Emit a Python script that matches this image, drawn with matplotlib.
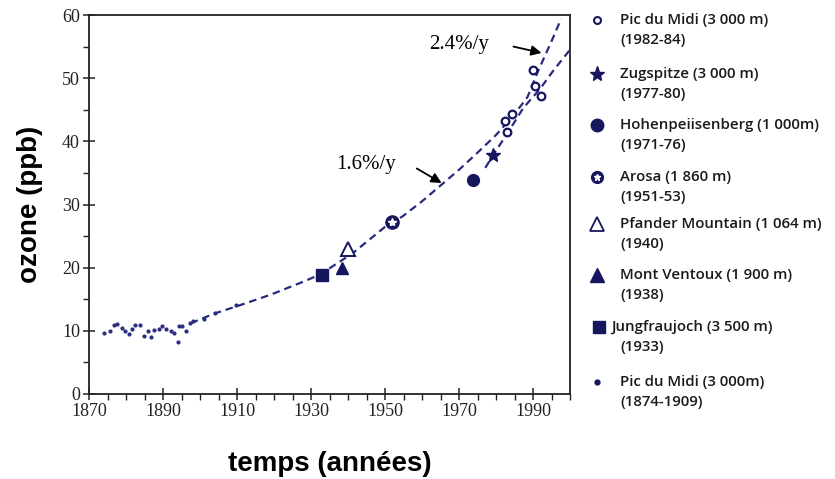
import numpy as np
import matplotlib
matplotlib.use("Agg")
import matplotlib.pyplot as plt
from matplotlib.ticker import MultipleLocator

NAVY = "#15165e"
DASH = "#262b7c"

# Pic du Midi 1874-1909 (small dots)
early_yr = [1874.1, 1875.8, 1876.8, 1877.7, 1879.0, 1879.7, 1880.7, 1881.6, 1882.5, 1883.7,
            1884.9, 1885.9, 1886.7, 1887.7, 1888.8, 1889.8, 1890.9, 1892.1, 1893.1, 1894.0,
            1894.2, 1895.1, 1896.3, 1897.2, 1898.1, 1901.2, 1904.0, 1909.6]
early_o3 = [9.7, 10.0, 11.0, 11.1, 10.4, 9.9, 9.5, 10.3, 11.0, 11.0,
            9.2, 10.0, 9.1, 10.2, 10.3, 10.8, 10.3, 10.0, 9.6, 8.3,
            10.7, 10.8, 10.0, 11.3, 11.6, 11.9, 12.8, 14.1]

# single stations
jung_yr, jung_o3 = [1933.1], [18.9]       # Jungfraujoch
vent_yr, vent_o3 = [1938.4], [19.9]       # Mont Ventoux
pfan_yr, pfan_o3 = [1940.0], [22.9]       # Pfander Mountain
arosa_yr, arosa_o3 = [1952.0], [27.3]     # Arosa
hohen_yr, hohen_o3 = [1973.9], [33.9]     # Hohenpeissenberg
zug_yr, zug_o3 = [1979.3], [37.8]         # Zugspitze

# Pic du Midi 1982-84 (open circles)
pdm_yr = [1982.5, 1984.2, 1983.1, 1990.1, 1990.5, 1992.1]
pdm_o3 = [43.2, 44.4, 41.4, 51.3, 48.8, 47.1]

# trend curves
trend16_yr = [1897.5, 1903.7, 1910.0, 1919.0, 1928.0, 1932.4, 1941.3, 1950.3, 1954.7, 1960.0,
              1965.0, 1970.0, 1975.0, 1980.0, 1985.0, 1988.5, 1991.5, 1994.9, 1997.6]
trend16_o3 = [11.2, 12.7, 13.9, 15.7, 17.8, 18.9, 22.3, 26.6, 28.1, 30.5,
              33.0, 35.5, 38.2, 41.0, 44.3, 47.0, 51.3, 55.7, 59.4]
trend24_yr = [1977.1, 1979.3, 1982.9, 1987.4, 1991.9, 1995.5, 2000.0]
trend24_o3 = [35.8, 37.9, 41.1, 45.3, 48.3, 51.2, 54.5]

legend_names = ["Pic du Midi (3 000 m)", "Zugspitze (3 000 m)", "Hohenpeiisenberg (1 000m)",
                "Arosa (1 860 m)", "Pfander Mountain (1 064 m)", "Mont Ventoux (1 900 m)",
                "Jungfraujoch (3 500 m)", "Pic du Midi (3 000m)"]
legend_years = ["(1982-84)", "(1977-80)", "(1971-76)", "(1951-53)", "(1940)", "(1938)",
                "(1933)", "(1874-1909)"]

fig = plt.figure(figsize=(8.35, 4.79), dpi=100)
ax = fig.add_axes([89 / 835, 1 - 394 / 479, (570 - 89) / 835, (394 - 15) / 479])

ls = (0, (3.4, 2.2))
ax.plot(trend16_yr, trend16_o3, color=DASH, lw=1.6, ls=ls, zorder=2)
ax.plot(trend24_yr, trend24_o3, color=DASH, lw=1.6, ls=ls, zorder=2)

ax.plot(early_yr, early_o3, "o", color="#2a2d80", ms=2.0, zorder=3)
ax.plot(jung_yr, jung_o3, "s", color=NAVY, ms=8.5, zorder=3)
ax.plot(vent_yr, vent_o3, "^", color=NAVY, ms=9, zorder=3)
ax.plot(pfan_yr, pfan_o3, "^", mfc="white", mec=NAVY, mew=1.4, ms=10, zorder=3)
ax.plot(arosa_yr, arosa_o3, "o", color=NAVY, ms=9.5, zorder=3)
ax.plot(arosa_yr, arosa_o3, "*", color="white", ms=6, zorder=4)
ax.plot(hohen_yr, hohen_o3, "o", color=NAVY, ms=8.5, zorder=3)
ax.plot(zug_yr, zug_o3, "*", color=NAVY, ms=10, zorder=3)
ax.plot(pdm_yr, pdm_o3, "o", mfc="white", mec=NAVY, mew=1.6, ms=5.5, zorder=3)

ax.set_xlim(1870, 2000)
ax.set_ylim(0, 60)
ax.xaxis.set_minor_locator(MultipleLocator(5))
ax.yaxis.set_major_locator(MultipleLocator(10))
ax.yaxis.set_minor_locator(MultipleLocator(5))
ax.set_xticks([1870, 1890, 1910, 1930, 1950, 1970, 1990])
ax.tick_params(which="major", direction="inout", length=9, width=1.1, colors="#222222",
               labelsize=13, pad=2)
ax.tick_params(which="minor", direction="out", length=4, width=1.0, colors="#222222")
for lab in ax.get_xticklabels() + ax.get_yticklabels():
    lab.set_family("Liberation Serif")
for sp in ax.spines.values():
    sp.set_linewidth(1.3)
    sp.set_color("#222222")

ax.set_xlabel("temps (années)", fontsize=20, fontweight="bold", family="Liberation Sans",
              labelpad=22)
ax.set_ylabel("ozone (ppb)", fontsize=20, fontweight="bold", family="Liberation Sans",
              labelpad=14)

ax.text(1944.8, 36.3, "1.6%/y", fontsize=15, family="Liberation Serif", ha="center", va="center")
ax.annotate("", xy=(1965.3, 33.4), xytext=(1958.6, 35.7),
            arrowprops=dict(arrowstyle="-|>", color="black", lw=1.3, mutation_scale=15,
                            shrinkA=0, shrinkB=0))
ax.text(1970.1, 55.4, "2.4%/y", fontsize=15, family="Liberation Serif", ha="center", va="center")
ax.annotate("", xy=(1992.3, 54.0), xytext=(1984.7, 55.0),
            arrowprops=dict(arrowstyle="-|>", color="black", lw=1.3, mutation_scale=15,
                            shrinkA=0, shrinkB=0))

# hand-made legend on the right, in pixel coordinates
lax = fig.add_axes([0, 0, 1, 1], facecolor="none")
lax.set_xlim(0, 835)
lax.set_ylim(479, 0)
lax.axis("off")
row_y = [20, 74, 125, 177, 224, 275, 327, 382]
styles = [
    dict(marker="o", mfc="white", mec=NAVY, mew=1.5, ms=5),
    dict(marker="*", color=NAVY, ms=11),
    dict(marker="o", color=NAVY, ms=9),
    dict(marker="o", color=NAVY, ms=8.5),
    dict(marker="^", mfc="white", mec=NAVY, mew=1.3, ms=10),
    dict(marker="^", color=NAVY, ms=10),
    dict(marker="s", color=NAVY, ms=8),
    dict(marker="o", color=NAVY, ms=3.5),
]
for i, (name, yr, st) in enumerate(zip(legend_names, legend_years, styles)):
    y = row_y[i]
    xm = 599 if i == 6 else 597
    lax.plot([xm], [y], ls="none", **st)
    if i == 3:
        lax.plot([xm], [y], "*", color="white", ms=5)
    xt = 611 if i == 6 else 620
    lax.text(xt, y, name, fontsize=10.8, family="Open Sans", fontweight="semibold",
             va="center", ha="left", color="#1a1a1a")
    lax.text(620, y + 20, yr, fontsize=10.8, family="Open Sans", fontweight="semibold",
             va="center", ha="left", color="#1a1a1a")

fig.savefig("out.png", dpi=100)
